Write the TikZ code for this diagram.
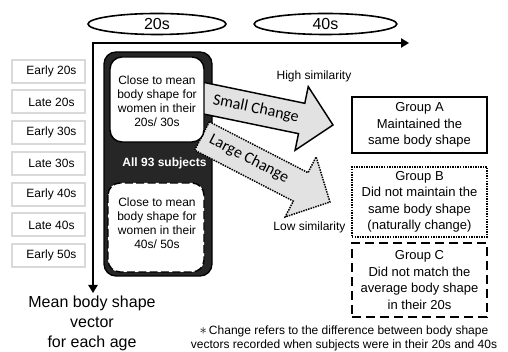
\documentclass[tikz,border=0pt]{standalone}
\usepackage{fontspec}
\setmainfont{Liberation Sans}
\newfontfamily\calib{Carlito}
\usetikzlibrary{arrows.meta,shapes.geometric}
\definecolor{darkbox}{RGB}{38,38,38}
\definecolor{arrowfill}{RGB}{226,226,226}
\definecolor{agegray}{RGB}{217,217,217}
\begin{document}
\begin{tikzpicture}[x=0.75pt,y=-0.75pt,
  agebox/.style={draw=agegray, line width=1.5pt, fill=white},
  agetext/.style={font=\fontsize{9}{10.5}\selectfont},
  decade/.style={draw, ellipse, line width=1.2pt, minimum height=15.75pt, inner sep=0pt, font=\fontsize{12}{14}\selectfont},
  axisline/.style={line width=1.1pt, {Triangle[length=6pt,width=7pt]}-{Triangle[length=6pt,width=7pt]}},
  innerbox/.style={fill=white, draw=black, line width=1.1pt, rounded corners=9pt},
  boxtext/.style={align=center, font=\fontsize{9}{10.5}\selectfont},
  blockarrow/.style={fill=arrowfill, draw=black, line width=1.1pt, line join=miter},
  dotline/.style={dash pattern=on 1.1pt off 0.8pt},
  arrowlabel/.style={font=\calib\fontsize{12}{14}\selectfont},
  simlabel/.style={font=\fontsize{9}{10.5}\selectfont},
  groupbox/.style={draw=black, fill=white, line width=1.6pt, minimum width=101.25pt, align=center, inner sep=0pt, font=\fontsize{9.75}{12.4}\selectfont}]
\useasboundingbox (0,0) rectangle (508,352);
\fill[white] (0,0) rectangle (508,352);

% decade ellipses
\node[decade, minimum width=103.5pt] (d20) at (157,24) {20s};
\node[decade, minimum width=107pt] (d40) at (325.5,24) {40s};

% axes
\coordinate (origin) at (93,43);
\coordinate (xend) at (409,43);
\coordinate (yend) at (93,293);
\draw[axisline] (xend) -- (origin) -- (yend);

% age labels
\foreach \n/\t/\y in {e20/Early 20s/71.3, l20/Late 20s/102, e30/Early 30s/132.7, l30/Late 30s/163.5, e40/Early 40s/194.2, l40/Late 40s/225, e50/Early 50s/255.7}{
  \draw[agebox] (12,\y-11.5) rectangle (85,\y+11.5);
  \node[agetext] (\n) at (51.5,\y) {\t};
}

% dark container
\draw[fill=darkbox, draw=black, line width=1pt, rounded corners=9pt] (104,52) rectangle (212,276);

% block arrows
\begin{scope}[shift={(200.8,97.6)}, rotate=-11.7]
  \draw[blockarrow] (0,-15.5) -- (103,-15.5) -- (103,-32.5) -- (135,0) -- (103,32.5) -- (103,15.5) -- (0,15.5) -- cycle;
\end{scope}
\begin{scope}[shift={(202,136)}, rotate=-27.3]
  \draw[blockarrow, dotline] (0,-16) -- (111,-16) -- (111,-33.8) -- (144,0) -- (111,33.8) -- (111,16) -- (0,16) -- cycle;
\end{scope}

% inner boxes
\draw[innerbox] (110,57) rectangle (204,142);
\draw[innerbox, dash pattern=on 6pt off 2.5pt] (108,183) rectangle (204,272);
\node[boxtext] (top) at (157,101) {Close to mean\\body shape for\\women in their\\20s/ 30s};
\node[boxtext] (bottom) at (157,223.5) {Close to mean\\body shape for\\women in their\\40s/ 50s};
\node[font=\bfseries\fontsize{9}{10.5}\selectfont, text=white] (all) at (164.5,163) {All 93 subjects};

% arrow labels
\node[arrowlabel, rotate=-11.7, inner sep=0pt] (small) at (256,109) {Small Change};
\node[arrowlabel, rotate=-27.3, inner sep=0pt] (large) at (249,159) {Large Change};
\node[simlabel] (high) at (314,76) {High similarity};
\node[simlabel] (low) at (309.5,227) {Low similarity};

% groups
\node[groupbox, minimum height=42pt] (ga) at (419.5,125) {Group A\\Maintained the\\same body shape};
\node[groupbox, minimum height=52.5pt, dotline] (gb) at (419.5,202) {Group B\\Did not maintain the\\same body shape\\(naturally change)};
\node[groupbox, minimum height=55.5pt, dash pattern=on 7pt off 3.5pt] (gc) at (419.5,280) {Group C\\Did not match the\\average body shape\\in their 20s};

% bottom texts
\node[align=center, font=\fontsize{12}{15}\selectfont] (mean) at (92,323) {Mean body shape\\vector\\for each age};
\node[align=center, font=\fontsize{9}{10}\selectfont] (note) at (344,338.5) {{\fontsize{11}{10}\selectfont$\ast$}\,Change refers to the difference between body shape\\vectors recorded when subjects were in their 20s and 40s};
\end{tikzpicture}
\end{document}
